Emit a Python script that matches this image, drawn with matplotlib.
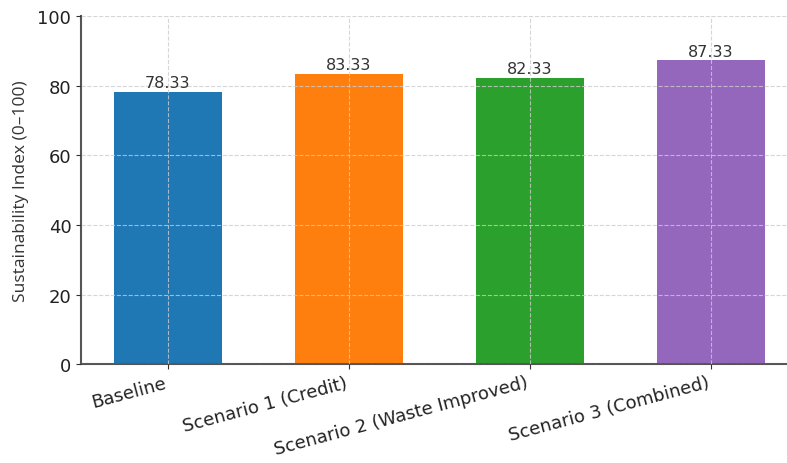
import matplotlib.pyplot as plt

# Scenario results
scenarios = ["Baseline", "Scenario 1 (Credit)", "Scenario 2 (Waste Improved)", "Scenario 3 (Combined)"]
index_values = [78.33, 83.33, 82.33, 87.33]
bar_colors = ["#1f77b4", "#ff7f0e", "#2ca02c", "#9467bd"]

fig = plt.figure(figsize=(7.87, 4.64), dpi=100)
ax = fig.add_axes([0.103, 0.213, 0.911, 0.75])

bars = ax.bar(scenarios, index_values, color=bar_colors, width=0.6)
for b, v in zip(bars, index_values):
    ax.text(b.get_x() + b.get_width() / 2, v + 0.5, f"{v:.2f}",
            ha="center", va="bottom", fontsize=11.5, color="#333333")

ax.set_ylim(0, 100)
ax.set_ylabel("Sustainability Index (0\u2013100)", fontsize=12.5, color="#333333",
              family="Open Sans", labelpad=6)
ax.set_axisbelow(False)
ax.grid(True, linestyle="--", color="#cccccc", linewidth=0.8, alpha=0.8)
for s in ["top", "right"]:
    ax.spines[s].set_visible(False)
for s in ["left", "bottom"]:
    ax.spines[s].set_color("#555555")
    ax.spines[s].set_linewidth(1.5)
ax.tick_params(axis="y", labelsize=13, colors="#333333", labelcolor="#222222")
ax.tick_params(axis="x", labelsize=13, pad=3, colors="#333333", labelcolor="#222222")
plt.setp(ax.get_xticklabels(), rotation=15, ha="right")

fig.savefig("out.png")
